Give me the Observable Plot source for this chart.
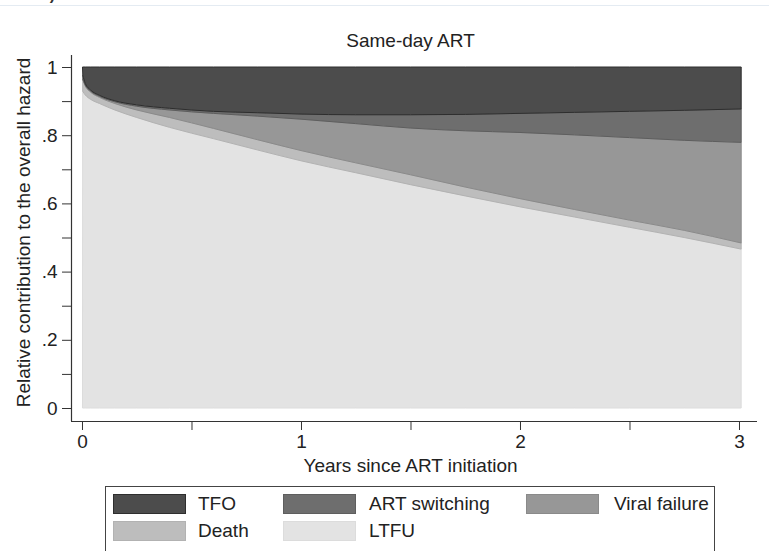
<!DOCTYPE html>
<html>
<head>
<meta charset="utf-8">
<script src="https://cdn.jsdelivr.net/npm/d3@7"></script>
<script src="https://cdn.jsdelivr.net/npm/@observablehq/plot@0.6"></script>
<style>
  html, body { margin: 0; padding: 0; background: #fff; }
  #page { position: relative; width: 769px; height: 551px; overflow: hidden; font-family: "Liberation Sans", Arial, sans-serif; color: #222; }
  #topline { position: absolute; left: 0; top: 5px; width: 769px; height: 1px; background: #e4ebf2; }
  #panel { position: absolute; left: -9px; top: -14px; font-size: 16px; font-weight: bold; color: #333; }
  #chart { position: absolute; left: 0; top: 0; }
  #legend { position: absolute; left: 105px; top: 486px; width: 610px; height: 80px; border: 1px solid #444; background: #fff; box-sizing: border-box; }
  .item { position: absolute; font-size: 19px; line-height: 22px; white-space: nowrap; }
  .sw { position: absolute; width: 73px; height: 20px; box-sizing: border-box; border: 1px solid; }
</style>
</head>
<body>
<div id="page">
  <div id="topline"></div>
  <div id="panel">Panel B)</div>
  <div id="chart"></div>
  <div id="legend"></div>
</div>
<script>
// ---- Data ----
const years    = [0.004, 0.015, 0.04, 0.08, 0.15, 0.25, 0.40, 0.60, 0.80, 1.00, 1.25, 1.50, 1.75, 2.00, 2.25, 2.50, 2.75, 3.01];
const ltfuTop  = [0.928, 0.918, 0.905, 0.893, 0.874, 0.852, 0.823, 0.790, 0.757, 0.725, 0.690, 0.655, 0.622, 0.590, 0.560, 0.530, 0.500, 0.466];
const deathTop = [0.962, 0.944, 0.926, 0.911, 0.893, 0.874, 0.852, 0.820, 0.787, 0.755, 0.719, 0.684, 0.648, 0.614, 0.582, 0.551, 0.521, 0.484];
const viralTop = [0.964, 0.947, 0.929, 0.914, 0.898, 0.885, 0.874, 0.864, 0.856, 0.847, 0.834, 0.821, 0.813, 0.808, 0.801, 0.793, 0.785, 0.779];
const artTop   = [0.975, 0.952, 0.932, 0.917, 0.901, 0.889, 0.879, 0.870, 0.866, 0.862, 0.860, 0.860, 0.861, 0.864, 0.867, 0.870, 0.873, 0.877];
const tfoTop   = [1, 1, 1, 1, 1, 1, 1, 1, 1, 1, 1, 1, 1, 1, 1, 1, 1, 1];

const seriesNames = ["TFO", "ART switching", "Viral failure", "Death", "LTFU"];
const fills   = ["#4c4c4c", "#6e6e6e", "#979797", "#bdbdbd", "#e3e3e3"];
const strokes = ["#2e2e2e", "#5e5e5e", "#8a8a8a", "#b2b2b2", "#dcdcdc"];

const yTicks = [0, 0.2, 0.4, 0.6, 0.8, 1];
const yTickLabels = ["0", ".2", ".4", ".6", ".8", "1"];
const yMinorTicks = [0.1, 0.3, 0.5, 0.7, 0.9];
const xTicks = [0, 1, 2, 3];
const xMinorTicks = [0.5, 1.5, 2.5];

// ---- Build table ----
const rows = years.map((x, i) => ({
  x,
  b0: 0, b1: ltfuTop[i], b2: deathTop[i], b3: viralTop[i], b4: artTop[i], b5: tfoTop[i]
}));
// bands from bottom: LTFU, Death, Viral failure, ART switching, TFO
const bands = [
  {lo: "b0", hi: "b1", k: 4},
  {lo: "b1", hi: "b2", k: 3},
  {lo: "b2", hi: "b3", k: 2},
  {lo: "b3", hi: "b4", k: 1},
  {lo: "b4", hi: "b5", k: 0}
];

const xDom = [-0.0502, 3.0822];
const yDom = [-0.0381, 1.0352];
const font = "'Liberation Sans', Arial, sans-serif";

const chart = Plot.plot({
  width: 769,
  height: 480,
  marginLeft: 71,
  marginRight: 12,
  marginTop: 55,
  marginBottom: 59,
  style: {fontFamily: font, fontSize: "19px", color: "#222", background: "transparent"},
  x: {domain: xDom},
  y: {domain: yDom},
  marks: [
    ...bands.map(b => Plot.areaY(rows, {
      x: "x", y1: b.lo, y2: b.hi, curve: "monotone-x",
      fill: fills[b.k], stroke: strokes[b.k], strokeWidth: 1
    })),
    Plot.ruleX([xDom[0]], {y1: yDom[0], y2: yDom[1], stroke: "#333", strokeWidth: 1.2}),
    Plot.ruleY([yDom[0]], {x1: xDom[0], x2: xDom[1], stroke: "#333", strokeWidth: 1.2}),
    Plot.axisY(yTicks, {anchor: "left", tickSize: 9, tickPadding: 5, fontSize: 19,
      tickFormat: (d) => yTickLabels[yTicks.indexOf(d)], label: null, stroke: "#333"}),
    Plot.axisY(yMinorTicks, {anchor: "left", tickSize: 9, tickFormat: () => "", label: null, stroke: "#333"}),
    Plot.axisX(xTicks, {anchor: "bottom", tickSize: 9, tickPadding: 4, fontSize: 19,
      tickFormat: (d) => String(d), label: null, stroke: "#333"}),
    Plot.axisX(xMinorTicks, {anchor: "bottom", tickSize: 9, tickFormat: () => "", label: null, stroke: "#333"}),
    Plot.text(["Same-day ART"], {frameAnchor: "top", textAnchor: "middle", lineAnchor: "bottom", dx: -4, dy: -9,
      fontSize: 19, fill: "#222"}),
    Plot.text(["Years since ART initiation"], {frameAnchor: "bottom", textAnchor: "middle", lineAnchor: "bottom", dx: -4, dy: 50,
      fontSize: 19, fill: "#222"}),
    Plot.text(["Relative contribution to the overall hazard"], {frameAnchor: "left", textAnchor: "middle", lineAnchor: "middle",
      rotate: -90, dx: -48, dy: -6, fontSize: 19, fill: "#222"})
  ]
});
document.getElementById("chart").appendChild(chart);

// ---- Legend ----
const legend = document.getElementById("legend");
const legendPos = [
  {k: 0, sx: 7,   lx: 92,  row: 0},
  {k: 1, sx: 177, lx: 263, row: 0},
  {k: 2, sx: 420, lx: 508, row: 0},
  {k: 3, sx: 7,   lx: 92,  row: 1},
  {k: 4, sx: 177, lx: 263, row: 1}
];
legendPos.forEach(p => {
  const top = 7 + p.row * 27;
  const sw = document.createElement("div");
  sw.className = "sw";
  sw.style.left = p.sx + "px";
  sw.style.top = top + "px";
  sw.style.background = fills[p.k];
  sw.style.borderColor = strokes[p.k];
  legend.appendChild(sw);
  const lab = document.createElement("div");
  lab.className = "item";
  lab.style.left = p.lx + "px";
  lab.style.top = (top - 1) + "px";
  lab.textContent = seriesNames[p.k];
  legend.appendChild(lab);
});
</script>
</body>
</html>
